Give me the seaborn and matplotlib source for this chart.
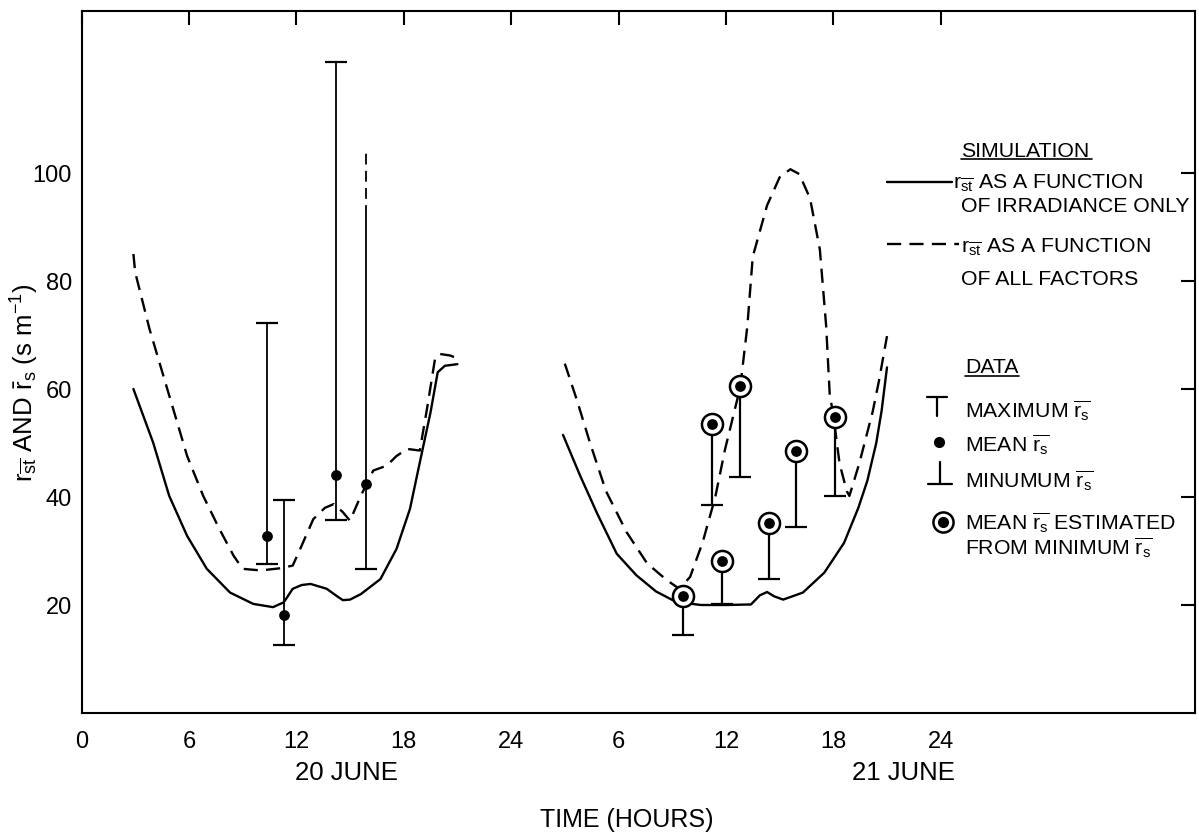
import numpy as np
import matplotlib
matplotlib.use("Agg")
import matplotlib.pyplot as plt
import matplotlib.transforms as mtransforms
import seaborn as sns

# ---------------- data ----------------
# 20 June simulation (hours of day, s m-1)
d1_irr_h = [2.9, 4.0, 4.9, 5.9, 7.0, 8.3, 9.6, 10.7, 11.3, 11.8, 12.3, 12.8, 13.7, 14.2, 14.6, 15.0,
            15.6, 16.7, 17.6, 18.35, 18.9, 19.5, 19.9, 20.3, 21.0]
d1_irr_v = [60.0, 50.1, 40.2, 32.8, 26.7, 22.3, 20.2, 19.6, 20.5, 23.0, 23.7, 23.9, 23.0, 21.8, 20.9, 21.0,
            22.0, 24.8, 30.4, 37.8, 46.4, 55.7, 63.1, 64.3, 64.6]
d1_all_h = [2.9, 3.0, 3.8, 4.9, 5.9, 6.8, 7.7, 8.5, 9.0, 10.0, 11.1, 11.8, 12.3, 12.95, 13.6, 14.1,
            14.6, 15.0, 15.6, 16.3, 17.05, 17.6, 18.2, 18.9, 19.3, 19.75, 20.0, 20.6, 21.05]
d1_all_v = [85.0, 81.6, 71.1, 58.8, 47.6, 40.2, 34.1, 29.1, 26.7, 26.4, 26.8, 27.3, 31.0, 35.9, 38.0, 38.7,
            37.2, 35.6, 40.2, 44.9, 45.8, 47.6, 48.9, 48.6, 56.3, 65.6, 66.5, 66.2, 65.6]

# 21 June simulation
d2_irr_h = [2.9, 3.85, 4.8, 5.9, 7.0, 8.1, 9.2, 10.6, 12.0, 13.4, 13.9, 14.3, 14.7, 15.2,
            16.3, 17.5, 18.6, 19.4, 19.9, 20.4, 20.7, 21.0]
d2_irr_v = [51.5, 44.0, 37.0, 29.5, 25.5, 22.5, 20.6, 20.0, 20.0, 20.1, 21.8, 22.4, 21.6, 21.0,
            22.3, 26.0, 31.5, 38.0, 43.0, 50.0, 56.0, 64.0]
d2_all_h = [3.0, 3.7, 4.4, 5.3, 6.45, 7.6, 8.7, 9.4, 10.0, 10.7, 11.4, 11.95, 12.8, 13.2, 13.5,
            14.3, 15.0, 15.6, 16.1, 16.7, 17.25, 17.6, 17.8, 18.0, 18.35, 18.75, 18.9, 19.45,
            20.2, 20.55, 21.0]
d2_all_v = [64.7, 57.7, 50.1, 41.1, 33.5, 27.7, 24.6, 23.0, 25.2, 31.6, 39.9, 48.8, 60.3, 71.7, 84.5,
            94.0, 99.2, 100.7, 99.8, 95.3, 85.8, 71.7, 59.0, 55.2, 46.2, 41.1, 40.2, 46.2,
            55.8, 61.5, 69.8]

# 20 June measured data
d1_bar_h = [10.35, 11.3, 14.2, 15.9]
d1_bar_max = [72.3, 39.5, 120.5, 92.1]
d1_bar_mean = [32.8, 18.1, 44.1, 42.4]
d1_bar_min = [27.6, 12.6, 35.8, 26.7]
d1_bar4_dashed_top = 104.4

# 21 June: mean estimated from minimum
d2_est_h = [9.6, 11.8, 11.2, 12.8, 14.4, 15.9, 18.1]
d2_est_mean = [21.7, 28.1, 53.6, 60.6, 35.1, 48.5, 54.8]
d2_est_min = [14.5, 20.2, 38.6, 43.7, 24.9, 34.4, 40.2]

x_tick_pos = [0, 6, 12, 18, 24, 30, 36, 42, 48]
x_tick_labels = ["0", "6", "12", "18", "24", "6", "12", "18", "24"]
y_ticks = [20, 40, 60, 80, 100]
DAY2_OFFSET = 24

# ---------------- style ----------------
sns.set_style("white")
plt.rcParams['font.family'] = ['Liberation Sans', 'DejaVu Sans']
plt.rcParams['mathtext.fontset'] = 'custom'
plt.rcParams['mathtext.rm'] = 'Liberation Sans'
plt.rcParams['mathtext.it'] = 'Liberation Sans:italic'
plt.rcParams['mathtext.bf'] = 'Liberation Sans:bold'
plt.rcParams['mathtext.sf'] = 'Liberation Sans'
plt.rcParams['text.color'] = 'black'
plt.rcParams['axes.labelcolor'] = 'black'
plt.rcParams['xtick.color'] = 'black'
plt.rcParams['ytick.color'] = 'black'

W, H = 1199, 837
fig = plt.figure(figsize=(W / 100, H / 100), dpi=100)
x0, x1, y0, y1 = 81.5, 1195, 12, 714
ax = fig.add_axes([x0 / W, 1 - y1 / H, (x1 - x0) / W, (y1 - y0) / H])

LW = 1.7
DASH = (0, (6, 3.5))

sns.lineplot(x=d1_irr_h, y=d1_irr_v, ax=ax, color='black', lw=LW, sort=False, estimator=None)
sns.lineplot(x=d1_all_h, y=d1_all_v, ax=ax, color='black', lw=LW, sort=False, estimator=None,
             linestyle=DASH)
sns.lineplot(x=np.array(d2_irr_h) + DAY2_OFFSET, y=d2_irr_v, ax=ax, color='black', lw=LW,
             sort=False, estimator=None)
sns.lineplot(x=np.array(d2_all_h) + DAY2_OFFSET, y=d2_all_v, ax=ax, color='black', lw=LW,
             sort=False, estimator=None, linestyle=DASH)

# Day 1 error bars
ax.vlines(d1_bar_h, d1_bar_min, d1_bar_max, color='black', lw=1.3)
ax.vlines([d1_bar_h[3]], [d1_bar_max[3]], [d1_bar4_dashed_top], color='black', lw=1.3,
          linestyles=[(0, (6, 3.5))])
ax.plot(d1_bar_h[:3], d1_bar_max[:3], ls='none', marker='_', ms=16, mew=1.6, color='black')
ax.plot(d1_bar_h, d1_bar_min, ls='none', marker='_', ms=16, mew=1.6, color='black')
sns.scatterplot(x=d1_bar_h, y=d1_bar_mean, ax=ax, color='black', s=60, edgecolor='black',
                linewidth=0, zorder=5)

# Day 2 estimated means
d2x = np.array(d2_est_h) + DAY2_OFFSET
ax.vlines(d2x, d2_est_min, d2_est_mean, color='black', lw=1.6)
ax.plot(d2x, d2_est_min, ls='none', marker='_', ms=16, mew=1.6, color='black')
sns.scatterplot(x=d2x, y=d2_est_mean, ax=ax, s=230, facecolor='white', edgecolor='black',
                linewidth=1.8, zorder=6)
sns.scatterplot(x=d2x, y=d2_est_mean, ax=ax, s=60, color='black', linewidth=0, zorder=7)

ax.set_xlim(0, (x1 - x0) / 17.9)
ax.set_ylim(0, 130)
ax.set_xticks(x_tick_pos)
ax.set_xticklabels(x_tick_labels)
ax.set_yticks(y_ticks)
ax.tick_params(axis='both', direction='in', length=10, width=1.5, top=True, right=True,
               labelsize=17, colors='black')
ax.tick_params(axis='x', pad=12)
ax.tick_params(axis='y', pad=7)
for sp in ax.spines.values():
    sp.set_linewidth(1.5)
    sp.set_color('black')

ax.set_ylabel(r'r$_{\overline{\mathrm{st}}}$ AND $\bar{\mathrm{r}}_{\mathrm{s}}$ (s m$^{\mathrm{-1}}$)',
              fontsize=18.5, ha='center', va='center', color='black')
ax.yaxis.set_label_coords((25 - x0) / (x1 - x0), (y1 - 383) / (y1 - y0))
ax.set_xlabel('TIME (HOURS)', fontsize=18, ha='center', va='center', color='black')
ax.xaxis.set_label_coords((627 - x0) / (x1 - x0), (y1 - 820) / (y1 - y0))

blend = mtransforms.blended_transform_factory(ax.transData, ax.transAxes)
ax.text(14.8, (y1 - 773) / (y1 - y0), '20 JUNE', transform=blend, ha='center', va='center',
        fontsize=18.5, color='black')
ax.text(45.9, (y1 - 773) / (y1 - y0), '21 JUNE', transform=blend, ha='center', va='center',
        fontsize=18.5, color='black')

# ---------------- legend (figure pixel coords) ----------------
def fx(px):
    return px / W

def fy(py):
    return 1 - py / H

tf = fig.transFigure
LFS = 15.3

def txt(px, py, s):
    fig.text(fx(px), fy(py), s, fontsize=LFS, ha='left', va='baseline', color='black')

def seg(xa, ya, xb, yb, **kw):
    fig.add_artist(plt.Line2D([fx(xa), fx(xb)], [fy(ya), fy(yb)], transform=tf,
                              color='black', **kw))

txt(961, 156.7, 'SIMULATION')
seg(961, 160, 1092, 160, lw=1.2)
seg(887, 183, 952, 183, lw=LW)
txt(953, 188, r'r$_{\overline{\mathrm{st}}}$ AS A FUNCTION')
txt(961, 211.7, 'OF IRRADIANCE ONLY')
seg(887, 245, 959, 245, lw=LW, ls=DASH)
txt(961, 252, r'r$_{\overline{\mathrm{st}}}$ AS A FUNCTION')
txt(961, 285, 'OF ALL FACTORS')

txt(965, 373.3, 'DATA')
seg(965, 376.5, 1019, 376.5, lw=1.2)
# maximum icon
seg(926.7, 398.3, 946.7, 398.3, lw=1.6)
seg(936.7, 398.3, 936.7, 417, lw=1.6)
txt(965, 418, r'MAXIMUM $\overline{\mathrm{r}_{\mathrm{s}}}$')
# mean icon
fig.add_artist(plt.Line2D([fx(939)], [fy(443)], transform=tf, marker='o', ms=7,
                          color='black', ls='none'))
txt(965, 452, r'MEAN $\overline{\mathrm{r}_{\mathrm{s}}}$')
# minimum icon
seg(940, 463, 940, 485, lw=1.6)
seg(928, 485, 952, 485, lw=1.6)
txt(965, 488, r'MINUMUM $\overline{\mathrm{r}_{\mathrm{s}}}$')
# estimated icon
fig.add_artist(plt.Line2D([fx(943.3)], [fy(523.3)], transform=tf, marker='o', ms=14.5,
                          mfc='white', mec='black', mew=1.8, ls='none'))
fig.add_artist(plt.Line2D([fx(943.3)], [fy(523.3)], transform=tf, marker='o', ms=7,
                          color='black', ls='none'))
txt(965, 530, r'MEAN $\overline{\mathrm{r}_{\mathrm{s}}}$ ESTIMATED')
txt(965, 555, r'FROM MINIMUM $\overline{\mathrm{r}_{\mathrm{s}}}$')

fig.savefig('out.png', dpi=100, facecolor='white')
